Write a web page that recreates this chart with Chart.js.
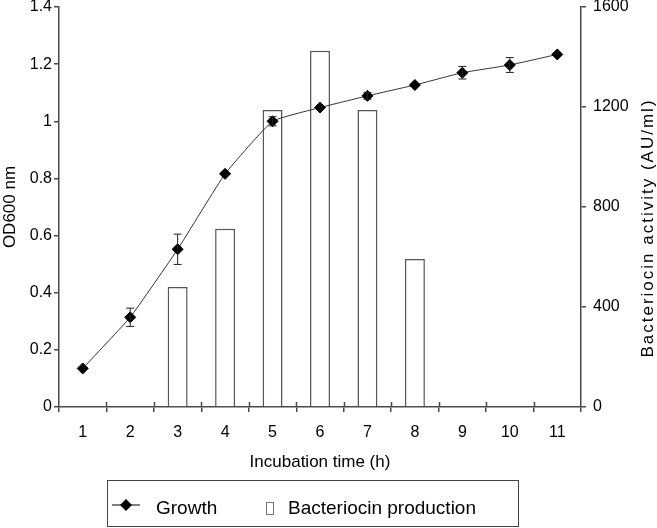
<!DOCTYPE html>
<html>
<head>
<meta charset="utf-8">
<script src="https://cdn.jsdelivr.net/npm/chart.js@4.4.0/dist/chart.umd.min.js"></script>
<style>
  html, body { margin: 0; padding: 0; background: #fff; }
  #wrap { width: 657px; height: 528px; }
</style>
</head>
<body>
<div id="wrap"><canvas id="chart" width="657" height="528"></canvas></div>
<script>
// incubation time (h)
const hours = ["1", "2", "3", "4", "5", "6", "7", "8", "9", "10", "11"];
// growth, OD600 (left axis) and its error
const growth = [0.135, 0.314, 0.552, 0.816, 1.0, 1.048, 1.089, 1.127, 1.17, 1.197, 1.234];
const growthErr = [0, 0.032, 0.053, 0, 0.016, 0, 0.012, 0, 0.022, 0.026, 0];
// bacteriocin activity, AU/ml (right axis)
const activity = [null, null, 480, 713, 1188, 1425, 1188, 592, null, null, null];
// tick labels
const leftTicks = ["0", "0.2", "0.4", "0.6", "0.8", "1", "1.2", "1.4"];
const rightTicks = ["0", "400", "800", "1200", "1600"];

const axisColor = "#4a4a4a";
const fontFamily = "'Liberation Sans', Arial, sans-serif";
Chart.defaults.font.family = fontFamily;
Chart.defaults.color = "#000";

// error bars on the growth points
const errorBars = {
  id: "errorBars",
  afterDatasetsDraw(chart) {
    const ctx = chart.ctx;
    const xs = chart.scales.x, ys = chart.scales.y;
    ctx.save();
    ctx.strokeStyle = "#222";
    ctx.lineWidth = 1;
    growth.forEach((v, i) => {
      const e = growthErr[i];
      if (!e) return;
      const x = xs.getPixelForValue(i);
      const top = ys.getPixelForValue(v + e);
      const bot = ys.getPixelForValue(v - e);
      ctx.beginPath();
      ctx.moveTo(x, top); ctx.lineTo(x, bot);
      ctx.moveTo(x - 4, top); ctx.lineTo(x + 4, top);
      ctx.moveTo(x - 4, bot); ctx.lineTo(x + 4, bot);
      ctx.stroke();
    });
    ctx.restore();
  }
};

// x ticks cross the axis line, plus legend box and right title
const extras = {
  id: "extras",
  afterDraw(chart) {
    const ctx = chart.ctx;
    const xs = chart.scales.x;
    const area = chart.chartArea;
    ctx.save();
    ctx.strokeStyle = axisColor;
    ctx.lineWidth = 1.5;
    const step = (xs.right - xs.left) / hours.length;
    for (let i = 1; i < hours.length; i++) {
      const x = Math.round(xs.left + i * step) + 0.5;
      ctx.beginPath();
      ctx.moveTo(x, area.bottom - 5);
      ctx.lineTo(x, area.bottom);
      ctx.stroke();
    }

    // right axis title
    ctx.save();
    ctx.translate(648, 228);
    ctx.rotate(-Math.PI / 2);
    ctx.font = "17px " + fontFamily;
    ctx.letterSpacing = "2px";
    ctx.fillStyle = "#000";
    ctx.textAlign = "center";
    ctx.textBaseline = "middle";
    ctx.fillText("Bacteriocin activity (AU/ml)", 0, 0);
    ctx.restore();

    // legend
    ctx.strokeStyle = "#444";
    ctx.lineWidth = 1;
    ctx.strokeRect(107.5, 480.5, 411, 46);
    ctx.strokeStyle = "#000";
    ctx.beginPath();
    ctx.moveTo(112, 505); ctx.lineTo(140, 505);
    ctx.stroke();
    ctx.fillStyle = "#000";
    ctx.beginPath();
    ctx.moveTo(126, 499); ctx.lineTo(132, 505); ctx.lineTo(126, 511); ctx.lineTo(120, 505);
    ctx.closePath();
    ctx.fill();
    ctx.strokeStyle = "#777";
    ctx.strokeRect(266.5, 502.5, 7, 12);
    ctx.font = "19px " + fontFamily;
    ctx.textBaseline = "alphabetic";
    ctx.fillText("Growth", 156, 514);
    ctx.fillText("Bacteriocin production", 288, 514);
    ctx.restore();
  }
};

const ctx = document.getElementById("chart").getContext("2d");
new Chart(ctx, {
  type: "bar",
  data: {
    labels: hours,
    datasets: [
      {
        type: "line",
        label: "Growth",
        data: growth,
        yAxisID: "y",
        order: 1,
        borderColor: "#333",
        borderWidth: 1,
        tension: 0.12,
        pointStyle: "rectRot",
        pointRadius: 5.5,
        pointBorderWidth: 1,
        pointBackgroundColor: "#000",
        pointBorderColor: "#000",
        fill: false
      },
      {
        type: "bar",
        label: "Bacteriocin production",
        data: activity,
        yAxisID: "y1",
        order: 2,
        backgroundColor: "#fff",
        borderColor: "#555",
        borderWidth: 1.5,
        categoryPercentage: 1,
        barPercentage: 0.42
      }
    ]
  },
  options: {
    responsive: false,
    animation: false,
    layout: { padding: { top: 7, bottom: 51, left: 0, right: 0 } },
    plugins: {
      legend: { display: false },
      tooltip: { enabled: false }
    },
    scales: {
      x: {
        offset: true,
        grid: { display: true, offset: true, drawOnChartArea: false, tickLength: 5, color: axisColor, lineWidth: 1.5 },
        border: { display: true, color: axisColor, width: 1.5 },
        ticks: { font: { size: 16 }, padding: 11, maxRotation: 0, autoSkip: false },
        title: { display: true, text: "Incubation time (h)", font: { size: 17 }, padding: { top: 0, bottom: 4 } },
        afterFit(scale) {
          scale.height = 70;
          scale.paddingLeft = 0;
          scale.paddingRight = 0;
        }
      },
      y: {
        position: "left",
        min: 0,
        max: 1.4,
        grid: { drawOnChartArea: false, tickLength: 5, color: axisColor, lineWidth: 1.5 },
        border: { display: true, color: axisColor, width: 1.5 },
        ticks: { stepSize: 0.2, padding: 2, font: { size: 16 }, callback: (v, i) => leftTicks[i] },
        title: { display: true, text: "OD600 nm", font: { size: 17 }, padding: 0 },
        afterFit(scale) {
          scale.width = 59;
          scale.paddingTop = 0;
          scale.paddingBottom = 0;
        }
      },
      y1: {
        position: "right",
        min: 0,
        max: 1600,
        grid: { drawOnChartArea: false, tickLength: 5, color: axisColor, lineWidth: 1.5 },
        border: { display: true, color: axisColor, width: 1.5 },
        ticks: { stepSize: 400, padding: 7, font: { size: 16 }, callback: (v, i) => rightTicks[i] },
        afterFit(scale) {
          scale.width = 76;
          scale.paddingTop = 0;
          scale.paddingBottom = 0;
        }
      }
    }
  },
  plugins: [errorBars, extras]
});
</script>
</body>
</html>
